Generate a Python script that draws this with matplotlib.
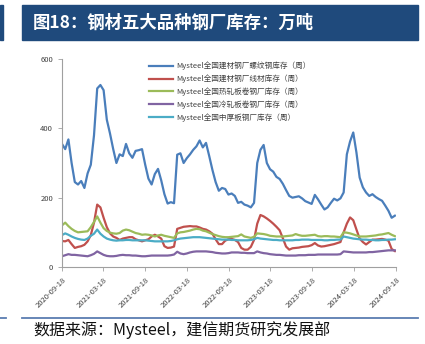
import matplotlib
matplotlib.use("Agg")
import matplotlib.pyplot as plt
import pandas as pd

plt.rcParams['font.family'] = ['Noto Sans CJK SC', 'DejaVu Sans']

# biweekly dates, 2020-09-18 .. 2024-09
dates = pd.date_range("2020-09-18", periods=105, freq="14D")

rebar = [355, 340, 368, 300, 245, 238, 248, 228, 270, 295,
         380, 515, 525, 510, 425, 385, 340, 300, 325, 320,
         355, 328, 315, 335, 337, 340, 295, 255, 238, 268,
         283, 250, 210, 183, 187, 184, 324, 328, 300, 314,
         325, 338, 348, 365, 345, 358, 320, 280, 245, 220,
         228, 225, 209, 212, 205, 185, 188, 180, 177, 172,
         185, 300, 338, 352, 300, 282, 275, 260, 254, 240,
         222, 205, 200, 202, 204, 198, 190, 186, 182, 208,
         195, 180, 166, 172, 185, 197, 192, 198, 215, 325,
         362, 388, 330, 258, 230, 215, 205, 210, 202, 196,
         191, 177, 162, 142, 148]

wire_rod = [75, 74, 78, 66, 55, 58, 60, 64, 74, 92,
            128, 180, 172, 142, 115, 97, 88, 84, 78, 82,
            84, 86, 86, 80, 77, 74, 77, 80, 88, 93,
            88, 82, 60, 55, 56, 59, 110, 113, 116, 117,
            118, 117, 117, 114, 110, 108, 103, 96, 80, 66,
            66, 76, 80, 81, 78, 72, 55, 50, 50, 58,
            78, 125, 150, 146, 140, 133, 125, 116, 106, 83,
            59, 50, 54, 55, 56, 58, 59, 60, 63, 69,
            62, 59, 60, 62, 64, 66, 69, 72, 100, 125,
            143, 135, 108, 82, 72, 65, 72, 79, 79, 80,
            81, 79, 76, 52, 46]

hot_rolled = [120, 128, 118, 110, 104, 100, 101, 102, 103, 115,
              130, 146, 128, 112, 104, 99, 97, 96, 98, 105,
              108, 106, 102, 98, 96, 93, 94, 93, 91, 88,
              91, 93, 90, 88, 86, 84, 97, 100, 101, 103,
              105, 108, 110, 109, 105, 103, 99, 95, 92, 89,
              87, 86, 86, 87, 88, 89, 94, 88, 86, 84,
              87, 97, 96, 95, 93, 90, 89, 88, 88, 88,
              89, 90, 91, 95, 92, 90, 90, 91, 92, 93,
              89, 88, 89, 89, 88, 88, 87, 86, 100, 99,
              97, 94, 91, 88, 88, 88, 89, 90, 91, 93,
              94, 96, 98, 93, 89]

cold_rolled = [31, 34, 37, 35, 35, 34, 33, 32, 31, 34,
               38, 45, 40, 35, 32, 31, 31, 32, 34, 35,
               34, 34, 33, 33, 32, 31, 31, 32, 33, 33,
               33, 33, 33, 33, 34, 36, 44, 39, 37, 39,
               42, 44, 45, 45, 45, 45, 44, 43, 41, 40,
               39, 39, 40, 42, 42, 42, 41, 41, 40, 40,
               40, 45, 42, 40, 39, 37, 36, 35, 35, 34,
               33, 33, 33, 33, 34, 34, 34, 35, 35, 35,
               36, 36, 36, 36, 36, 36, 36, 37, 45, 44,
               43, 42, 42, 42, 42, 42, 43, 43, 44, 45,
               46, 47, 48, 48, 48]

plate = [92, 97, 93, 88, 84, 81, 79, 78, 82, 90,
         96, 108, 96, 88, 82, 79, 77, 76, 77, 77,
         78, 78, 77, 77, 77, 77, 77, 76, 75, 74,
         74, 74, 74, 74, 75, 77, 80, 82, 83, 84,
         85, 86, 86, 86, 85, 84, 83, 82, 81, 80,
         79, 79, 79, 78, 78, 77, 77, 77, 77, 78,
         80, 84, 82, 81, 80, 79, 78, 78, 77, 77,
         77, 77, 77, 78, 78, 79, 79, 79, 78, 78,
         78, 78, 77, 77, 78, 78, 79, 79, 88, 86,
         84, 82, 81, 80, 79, 79, 78, 78, 77, 77,
         78, 78, 79, 79, 80]

series_names = ["Mysteel全国建材钢厂螺纹钢库存（周）",
                "Mysteel全国建材钢厂线材库存（周）",
                "Mysteel全国热轧板卷钢厂库存（周）",
                "Mysteel全国冷轧板卷钢厂库存（周）",
                "Mysteel全国中厚板钢厂库存（周）"]
series_colors = ["#4A7EBB", "#C0504D", "#9BBB59", "#8064A2", "#4BACC6"]

tick_dates = pd.date_range("2020-09-18", periods=9, freq=pd.DateOffset(months=6))
tick_labels = [d.strftime("%Y-%m-%d") for d in tick_dates]

fig = plt.figure(figsize=(4.25, 3.44), dpi=100)

# title bar
fig.patches.append(plt.Rectangle((22 / 425, 1 - 40 / 344), 396 / 425, 35 / 344,
                                 transform=fig.transFigure, color="#1F4A7C", zorder=0))
fig.patches.append(plt.Rectangle((0, 1 - 40 / 344), 3 / 425, 35 / 344,
                                 transform=fig.transFigure, color="#1F4A7C", zorder=0))
fig.text(33 / 425, 1 - 23 / 344, "图18：钢材五大品种钢厂库存：万吨", color="white",
         fontsize=12.5, fontweight="bold", va="center", ha="left")

# footer line + source
fig.add_artist(plt.Line2D([22 / 425, 418 / 425], [1 - 318 / 344, 1 - 318 / 344],
                          transform=fig.transFigure, color="#5B7DB1", lw=1.3))
fig.add_artist(plt.Line2D([0, 6 / 425], [1 - 318 / 344, 1 - 318 / 344],
                          transform=fig.transFigure, color="#5B7DB1", lw=1.3))
fig.text(33 / 425, 1 - 330 / 344, "数据来源：Mysteel，建信期货研究发展部", color="#111111",
         fontsize=11.5, style="italic", va="center", ha="left")

ax = fig.add_axes([62 / 425, 1 - 267 / 344, 334 / 425, 208 / 344])
all_series = [rebar, wire_rod, hot_rolled, cold_rolled, plate]
for vals, name, c in zip(all_series, series_names, series_colors):
    ax.plot(dates, vals, color=c, lw=1.6, label=name)

ax.set_ylim(0, 600)
ax.set_yticks([0, 200, 400, 600])
ax.set_xlim(tick_dates[0], tick_dates[-1])
ax.set_xticks(tick_dates)
ax.set_xticklabels(tick_labels, rotation=45, ha="right", rotation_mode="anchor")
ax.tick_params(axis="both", labelsize=5.5, colors="#404040", length=3, width=0.6)
ax.tick_params(axis="both", color="#A0A0A0")
for s in ["top", "right"]:
    ax.spines[s].set_visible(False)
for s in ["left", "bottom"]:
    ax.spines[s].set_color("#A0A0A0")
    ax.spines[s].set_linewidth(0.8)

leg = ax.legend(loc="upper left", bbox_to_anchor=(0.24, 1.02), frameon=False,
                fontsize=5.5, handlelength=3.2, labelspacing=0.55, handletextpad=0.3)
for t in leg.get_texts():
    t.set_color("#404040")

fig.savefig("out.png", dpi=100)
